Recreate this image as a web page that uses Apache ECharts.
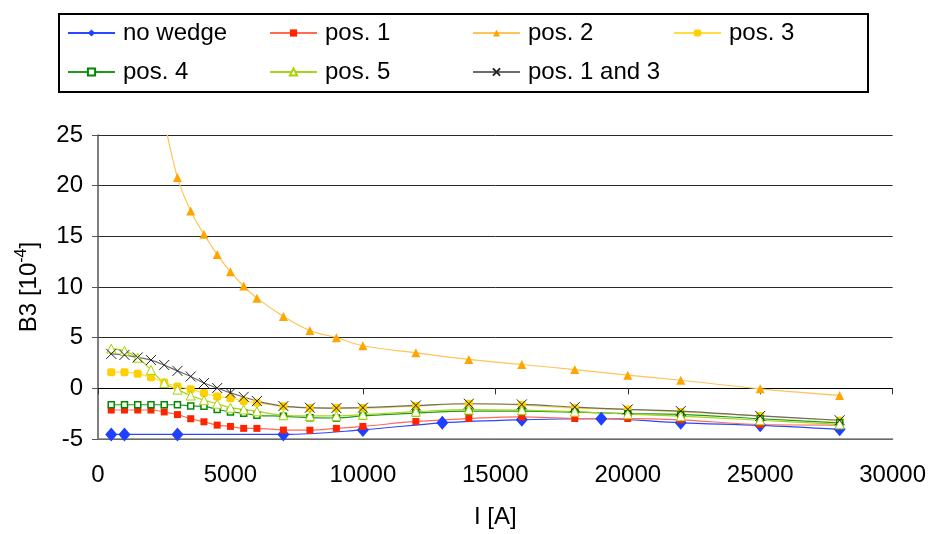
<!DOCTYPE html>
<html>
<head>
<meta charset="utf-8">
<script src="https://cdn.jsdelivr.net/npm/echarts@6/dist/echarts.min.js"></script>
<style>
  html, body { margin: 0; padding: 0; background: #fff; }
  #chart { width: 929px; height: 534px; }
</style>
</head>
<body>
<div id="chart"></div>
<script>
// Sextupole component B3 versus current for the different wedge positions
const xTicks = [0, 5000, 10000, 15000, 20000, 25000, 30000];
const yTicks = [-5, 0, 5, 10, 15, 20, 25];

const noWedgeI = [500, 1000, 3000, 7000, 10000, 13000, 16000, 19000, 22000, 25000, 28000];
const noWedgeB3 = [-4.55, -4.55, -4.55, -4.55, -4.1, -3.4, -3.1, -3.0, -3.4, -3.65, -4.05];

const fineI = [500, 1000, 1500, 2000, 2500, 3000, 3500, 4000, 4500, 5000, 5500, 6000, 7000, 8000, 9000,
               10000, 12000, 14000, 16000, 18000, 20000, 22000, 25000, 28000];
const pos1B3 = [-2.14, -2.14, -2.14, -2.14, -2.33, -2.59, -3.0, -3.3, -3.63, -3.76, -3.95, -3.95, -4.12, -4.13, -3.95,
                -3.76, -3.27, -2.98, -2.82, -2.98, -2.98, -3.11, -3.57, -3.63];

const pos2I = [2500, 3000, 3500, 4000, 4500, 5000, 5500, 6000, 7000, 8000, 9000,
               10000, 12000, 14000, 16000, 18000, 20000, 22000, 25000, 28000];
const pos2B3 = [26.5, 20.8, 17.5, 15.2, 13.2, 11.5, 10.1, 8.9, 7.1, 5.7, 5.0,
                4.2, 3.5, 2.85, 2.35, 1.85, 1.3, 0.8, -0.05, -0.7];

const pos3B3 = [1.59, 1.59, 1.43, 1.1, 0.58, 0.19, -0.1, -0.45, -0.81, -0.97, -1.26, -1.43, -1.78, -1.93, -1.95,
                -1.95, -1.75, -1.52, -1.65, -1.95, -2.08, -2.33, -2.72, -3.2];
const pos4B3 = [-1.62, -1.62, -1.62, -1.62, -1.62, -1.62, -1.75, -1.78, -2.08, -2.33, -2.46, -2.66, -2.76, -2.9, -2.93,
                -2.72, -2.44, -2.25, -2.25, -2.35, -2.5, -2.57, -3.0, -3.4];
const pos5B3 = [3.92, 3.7, 3.02, 1.82, 0.52, -0.13, -0.71, -1.17, -1.52, -1.91, -2.08, -2.27, -2.66, -2.72, -2.72,
                -2.6, -2.3, -2.1, -2.15, -2.3, -2.55, -2.75, -3.15, -3.55];
const pos13B3 = [3.4, 3.3, 3.05, 2.79, 2.3, 1.72, 1.17, 0.52, 0.03, -0.45, -0.84, -1.26, -1.75, -1.91, -1.95,
                 -1.91, -1.69, -1.52, -1.59, -1.85, -2.08, -2.24, -2.72, -3.15];

const seriesNames = ['no wedge', 'pos. 1', 'pos. 2', 'pos. 3', 'pos. 4', 'pos. 5', 'pos. 1 and 3'];

const zip = (xs, ys) => xs.map((x, i) => [x, ys[i]]);
const FONT = '"Liberation Sans", Arial, sans-serif';

function lineSeries(name, data, lineColor, symbol, symbolSize, itemStyle) {
  return {
    name, type: 'line', data, smooth: 0.35, symbol, symbolSize,
    clip: true,
    lineStyle: { color: lineColor, width: 1.2 },
    itemStyle,
    emphasis: { disabled: true }
  };
}

const crossPath = 'path://M0,0L10,10M10,0L0,10';

const series = [
  lineSeries(seriesNames[0], zip(noWedgeI, noWedgeB3), '#2a48ff', 'diamond', [12, 14],
             { color: '#1f40ff' }),
  lineSeries(seriesNames[1], zip(fineI, pos1B3), '#ff6a55', 'rect', 7,
             { color: '#ff2400' }),
  lineSeries(seriesNames[2], zip(pos2I, pos2B3), '#ffc458', 'triangle', 9,
             { color: '#ffa500' }),
  lineSeries(seriesNames[3], zip(fineI, pos3B3), '#ffdc40', 'roundRect', 8,
             { color: '#ffd000' }),
  lineSeries(seriesNames[4], zip(fineI, pos4B3), '#1f9a1f', 'rect', 6,
             { color: '#ffffff', borderColor: '#008a00', borderWidth: 1.5 }),
  lineSeries(seriesNames[5], zip(fineI, pos5B3), '#a8d41a', 'triangle', 9,
             { color: '#ffffff', borderColor: '#a8d400', borderWidth: 1 }),
  lineSeries(seriesNames[6], zip(fineI, pos13B3), '#6b6b6b', crossPath, 10,
             { color: 'rgba(0,0,0,0)', borderColor: '#222222', borderWidth: 1 })
];

// four legend columns laid out inside a framed box
const legendCols = [
  [seriesNames[0], seriesNames[4]],
  [seriesNames[1], seriesNames[5]],
  [seriesNames[2], seriesNames[6]],
  [seriesNames[3]]
];
const legendLeft = [67, 269, 472, 673];
const legends = legendCols.map((names, i) => ({
  data: names,
  orient: 'vertical',
  left: legendLeft[i],
  top: 21,
  padding: 0,
  itemWidth: 47,
  itemHeight: 9,
  itemGap: 15,
  selectedMode: false,
  textStyle: { fontFamily: FONT, fontSize: 24, lineHeight: 24, color: '#000', padding: [0, 0, 0, 3] }
}));

const option = {
  animation: false,
  backgroundColor: '#ffffff',
  legend: legends,
  graphic: [{
    type: 'rect',
    shape: { x: 59, y: 14, width: 809, height: 78 },
    style: { fill: 'none', stroke: '#000', lineWidth: 2 },
    z: 10
  }],
  grid: { left: 98, right: 35, top: 135, bottom: 90, containLabel: false },
  xAxis: [{
    type: 'value',
    min: xTicks[0], max: xTicks[xTicks.length - 1], interval: xTicks[1] - xTicks[0],
    position: 'bottom',
    name: 'I [A]', nameLocation: 'middle', nameGap: 66,
    nameTextStyle: { fontFamily: FONT, fontSize: 24, color: '#000' },
    axisLine: { onZero: false, lineStyle: { color: '#808080', width: 1.5 } },
    axisTick: { show: false },
    axisLabel: { fontFamily: FONT, fontSize: 24, color: '#000', margin: 24, formatter: v => String(v) },
    splitLine: { show: false }
  }, {
    // tick marks along the zero line
    type: 'value',
    min: xTicks[0], max: xTicks[xTicks.length - 1], interval: xTicks[1] - xTicks[0],
    position: 'bottom',
    axisLine: { onZero: true, lineStyle: { color: '#000', width: 1 } },
    axisTick: { show: true, length: 6, lineStyle: { color: '#333' } },
    axisLabel: { show: false },
    splitLine: { show: false }
  }],
  yAxis: {
    type: 'value',
    min: yTicks[0], max: yTicks[yTicks.length - 1], interval: yTicks[1] - yTicks[0],
    name: 'B3 [10{sup|-4}]',
    nameLocation: 'middle', nameRotate: 90, nameGap: 54,
    nameTextStyle: {
      fontFamily: FONT, fontSize: 24, color: '#000', lineHeight: 30,
      rich: { sup: { fontFamily: FONT, fontSize: 16, color: '#000', verticalAlign: 'top', lineHeight: 30 } }
    },
    axisLine: { show: true, onZero: false, lineStyle: { color: '#555', width: 1.5 } },
    axisTick: { show: true, length: 6, lineStyle: { color: '#555' } },
    axisLabel: { fontFamily: FONT, fontSize: 24, color: '#000', margin: 15 },
    splitLine: { show: true, lineStyle: { color: '#2a2a2a', width: 1 } }
  },
  series
};

const chart = echarts.init(document.getElementById('chart'), null, { renderer: 'canvas' });
chart.setOption(option);
</script>
</body>
</html>
